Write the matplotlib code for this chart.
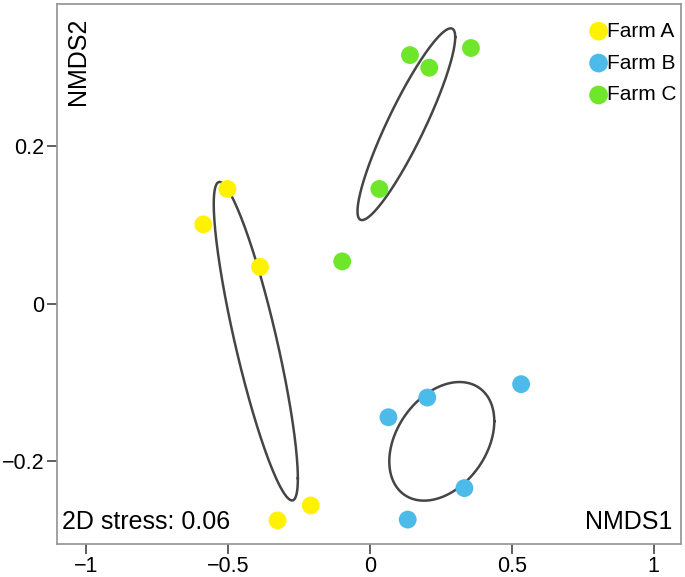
# NMDS ordination of three farms with standard deviation ellipses

import numpy as np
import matplotlib
matplotlib.use("Agg")
import matplotlib.pyplot as plt

plt.rcParams['font.family'] = ['Liberation Sans', 'DejaVu Sans']

# NMDS scores
farm_a_x = [-0.503, -0.588, -0.388, -0.209, -0.326]
farm_a_y = [0.146, 0.101, 0.047, -0.256, -0.275]

farm_b_x = [0.065, 0.202, 0.533, 0.333, 0.133]
farm_b_y = [-0.144, -0.119, -0.102, -0.234, -0.274]

farm_c_x = [0.141, 0.209, 0.356, 0.033, -0.098]
farm_c_y = [0.316, 0.300, 0.325, 0.146, 0.054]

groups = ["Farm A", "Farm B", "Farm C"]
colors = ["#FFF200", "#4DBBEA", "#6EE62A"]

xticks = [-1, -0.5, 0, 0.5, 1]
xticklabels = ["\u22121", "\u22120.5", "0", "0.5", "1"]
yticks = [-0.2, 0, 0.2]
yticklabels = ["\u22120.2", "0", "0.2"]

stress = 0.06


# sd ellipse of a group (like vegan::ordiellipse kind="sd")
def sd_ellipse(x, y, n=200):
    pts = np.column_stack([x, y])
    c = pts.mean(axis=0)
    L = np.linalg.cholesky(np.cov(pts.T))
    t = np.linspace(0, 2*np.pi, n)
    e = c[:, None] + L @ np.vstack([np.cos(t), np.sin(t)])
    return e[0], e[1]


fig = plt.figure(figsize=(6.85, 5.77), dpi=100)
ax = fig.add_axes([0.0832, 0.0572, 0.911, 0.936])

data = [(farm_a_x, farm_a_y), (farm_b_x, farm_b_y), (farm_c_x, farm_c_y)]

for (gx, gy), name, col in zip(data, groups, colors):
    ex, ey = sd_ellipse(gx, gy)
    ax.plot(ex, ey, color="#454545", lw=1.8, zorder=2)

for (gx, gy), name, col in zip(data, groups, colors):
    ax.scatter(gx, gy, s=165, color=col, edgecolors="none", label=name, zorder=3)

ax.set_xlim(-1.104, 1.097)
ax.set_ylim(-0.305, 0.381)

ax.set_xticks(xticks)
ax.set_xticklabels(xticklabels)
ax.set_yticks(yticks)
ax.set_yticklabels(yticklabels)
ax.tick_params(direction="out", length=7, width=1.1, color="#333333", labelsize=15.5)
ax.tick_params(axis="x", pad=1.5)
ax.tick_params(axis="y", pad=2)

for s in ax.spines.values():
    s.set_color("#9a9a9a")
    s.set_linewidth(1.3)

ax.text(0.034, 0.975, "NMDS2", rotation=90, transform=ax.transAxes,
        ha="center", va="top", fontsize=18)
ax.text(0.986, 0.018, "NMDS1", transform=ax.transAxes,
        ha="right", va="bottom", fontsize=18)
ax.text(0.008, 0.018, f"2D stress: {stress:.2f}", transform=ax.transAxes,
        ha="left", va="bottom", fontsize=18)

ax.legend(loc="upper right", bbox_to_anchor=(1.021, 1.0), frameon=False,
          fontsize=15, handletextpad=-0.1, labelspacing=0.62,
          borderaxespad=0.45, markerscale=1.05, handlelength=1.0)

plt.savefig("out.png", dpi=100)
